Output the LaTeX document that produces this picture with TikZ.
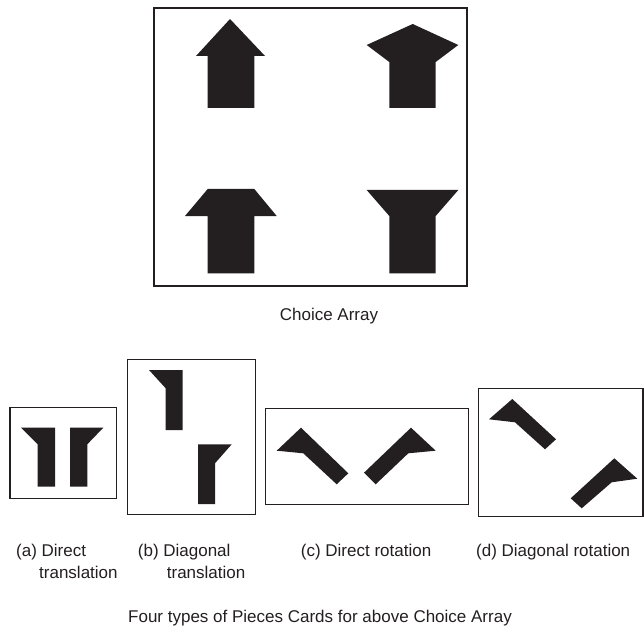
\documentclass[tikz,border=0pt]{standalone}
\usepackage{fontspec}
\setmainfont{Liberation Sans}
\usepackage{tikz}
\definecolor{ink}{HTML}{231F20}

\begin{document}
\begin{tikzpicture}[x=1pt, y=-1pt,
  card/.style = {draw=ink, line width=1.2pt},
  piece/.style = {fill=ink},
  lbl/.style = {anchor=base west, inner sep=0pt, font=\fontsize{17}{21}\selectfont, text=ink},
  caption/.style = {anchor=base, inner sep=0pt, font=\fontsize{17}{21}\selectfont, text=ink}]
\useasboundingbox (0,0) rectangle (644,628);
\draw[card] (154,8) rectangle (467,286);
\fill[piece] (230,19) -- (265,56) -- (254.3,56) -- (254.3,108) -- (207.7,108) -- (207.7,56) -- (196,56) -- cycle;
\fill[piece] (412.7,24) -- (458.3,45) -- (435.7,62) -- (435.7,108) -- (389.3,108) -- (389.3,62) -- (366.7,45) -- cycle;
\fill[piece] (207.7,189) -- (254.3,189) -- (276.7,216) -- (254.3,216) -- (254.3,273.3) -- (207.7,273.3) -- (207.7,216) -- (185,216) -- cycle;
\fill[piece] (366.7,190) -- (458.3,190) -- (435.7,216) -- (435.7,273.3) -- (389.3,273.3) -- (389.3,216) -- cycle;
\node[caption] (choice) at (329,320.5) {Choice Array};
\draw[card] (10,407.7) rectangle (116.7,498.3);
\fill[piece] (21,427.7) -- (55,427.7) -- (55,486.7) -- (37.7,486.7) -- (37.7,444.3) -- cycle;
\fill[piece] (70,427.7) -- (103.3,427.7) -- (87.3,444.3) -- (87.3,486.7) -- (70,486.7) -- cycle;
\draw[card] (127.3,359.3) rectangle (255.7,514.3);
\fill[piece] (149,370) -- (182.7,370) -- (182.7,430) -- (165.7,430) -- (165.7,388.3) -- cycle;
\fill[piece] (198,444.3) -- (231.7,444.3) -- (215,463.3) -- (215,504) -- (198,504) -- cycle;
\draw[card] (265.7,408.3) rectangle (468.3,504.3);
\fill[piece] (301,427.7) -- (348.3,473.3) -- (336.7,484.3) -- (303.3,453.3) -- (276.7,450.7) -- cycle;
\fill[piece] (411,427.7) -- (435.7,450.7) -- (408.3,453.3) -- (375.7,484.3) -- (364,472.7) -- cycle;
\draw[card] (478.3,388.3) rectangle (643,516.7);
\fill[piece] (512.3,399) -- (556,439.3) -- (545,449.3) -- (515,422.3) -- (489,419.3) -- cycle;
\fill[piece] (614.3,458.3) -- (637.3,478.7) -- (611.7,482.3) -- (581.7,508.3) -- (570.7,498.3) -- cycle;
\node[lbl] (a1) at (16,556.5) {(a) Direct};
\node[lbl] (a2) at (39,578.5) {translation};
\node[lbl] (b1) at (137.7,556.5) {(b) Diagonal};
\node[lbl] (b2) at (166.7,578.5) {translation};
\node[lbl] (c1) at (300.7,556.5) {(c) Direct rotation};
\node[lbl] (d1) at (476,556.5) {(d) Diagonal rotation};
\node[caption] (four) at (320,622.5) {Four types of Pieces Cards for above Choice Array};
\end{tikzpicture}
\end{document}
